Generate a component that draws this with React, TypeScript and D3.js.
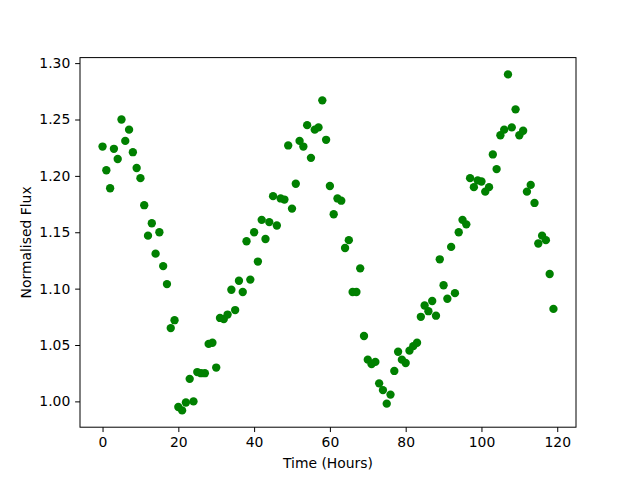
import * as d3 from "d3";
import { useEffect, useRef } from "react";

// hourly samples
const hours = d3.range(0, 120);
const flux = [
  1.226, 1.205, 1.189, 1.224, 1.215, 1.250, 1.231, 1.241, 1.221, 1.207,
  1.198, 1.174, 1.147, 1.158, 1.131, 1.150, 1.120, 1.104, 1.065, 1.072,
  0.995, 0.992, 0.999, 1.020, 1.000, 1.026, 1.025, 1.025, 1.051, 1.052,
  1.030, 1.074, 1.073, 1.077, 1.099, 1.081, 1.107, 1.097, 1.142, 1.108,
  1.150, 1.124, 1.161, 1.144, 1.159, 1.182, 1.156, 1.180, 1.179, 1.227,
  1.171, 1.193, 1.231, 1.226, 1.245, 1.216, 1.241, 1.243, 1.267, 1.232,
  1.191, 1.166, 1.180, 1.178, 1.136, 1.143, 1.097, 1.097, 1.118, 1.058,
  1.037, 1.033, 1.035, 1.016, 1.010, 0.998, 1.006, 1.027, 1.044, 1.037,
  1.034, 1.045, 1.049, 1.052, 1.075, 1.085, 1.080, 1.089, 1.076, 1.126,
  1.103, 1.091, 1.137, 1.096, 1.150, 1.161, 1.157, 1.198, 1.190, 1.196,
  1.195, 1.186, 1.190, 1.219, 1.206, 1.236, 1.241, 1.290, 1.243, 1.259,
  1.236, 1.240, 1.186, 1.192, 1.176, 1.140, 1.147, 1.143, 1.113, 1.082,
];
const xTicks = [0, 20, 40, 60, 80, 100, 120];
const yTicks = [1.0, 1.05, 1.1, 1.15, 1.2, 1.25, 1.3];

export default function App() {
  const ref = useRef<SVGSVGElement>(null);

  useEffect(() => {
    const svg = d3.select(ref.current);
    svg.selectAll("*").remove();

    const width = 640;
    const height = 480;
    const margin = { top: 57.6, right: 64, bottom: 52.8, left: 80 };
    const font = "'DejaVu Sans', sans-serif";
    const tick = 4.86;

    const data = hours.map((h, i) => ({ h, v: flux[i] }));

    // matplotlib-style 5% margins
    const xr = d3.extent(hours) as [number, number];
    const yr = d3.extent(flux) as [number, number];
    const xm = (xr[1] - xr[0]) * 0.05;
    const ym = (yr[1] - yr[0]) * 0.05;

    const x = d3
      .scaleLinear()
      .domain([xr[0] - xm, xr[1] + xm])
      .range([margin.left, width - margin.right]);

    const y = d3
      .scaleLinear()
      .domain([yr[0] - ym, yr[1] + ym])
      .range([height - margin.bottom, margin.top]);

    // points
    svg.append("g")
      .selectAll("circle")
      .data(data)
      .join("circle")
      .attr("cx", d => x(d.h))
      .attr("cy", d => y(d.v))
      .attr("r", 4.17)
      .attr("fill", "#008000");

    // axes
    const gx = svg.append("g")
      .attr("transform", `translate(0,${height - margin.bottom})`)
      .call(d3.axisBottom(x).tickValues(xTicks).tickFormat(d3.format("d")).tickSize(tick).tickPadding(4.86).tickSizeOuter(0));

    const gy = svg.append("g")
      .attr("transform", `translate(${margin.left},0)`)
      .call(d3.axisLeft(y).tickValues(yTicks).tickFormat(d3.format(".2f")).tickSize(tick).tickPadding(4.86).tickSizeOuter(0));

    [gx, gy].forEach(g => {
      g.select(".domain").remove();
      g.attr("font-family", font).attr("font-size", 13.9);
      g.selectAll("line").attr("stroke", "#000").attr("stroke-width", 1);
      g.selectAll("text").attr("fill", "#000");
    });

    // frame
    svg.append("rect")
      .attr("x", margin.left)
      .attr("y", margin.top)
      .attr("width", width - margin.left - margin.right)
      .attr("height", height - margin.top - margin.bottom)
      .attr("fill", "none")
      .attr("stroke", "#000")
      .attr("stroke-width", 1);

    svg.append("text")
      .attr("x", (margin.left + width - margin.right) / 2)
      .attr("y", 468)
      .attr("text-anchor", "middle")
      .attr("font-family", font)
      .attr("font-size", 13.9)
      .text("Time (Hours)");

    svg.append("text")
      .attr("transform", `translate(31,${(margin.top + height - margin.bottom) / 2}) rotate(-90)`)
      .attr("text-anchor", "middle")
      .attr("font-family", font)
      .attr("font-size", 13.9)
      .text("Normalised Flux");
  }, []);

  return (
    <svg
      ref={ref}
      width={640}
      height={480}
      style={{ position: "absolute", left: 0, top: 0, background: "#fff" }}
    ></svg>
  );
}
